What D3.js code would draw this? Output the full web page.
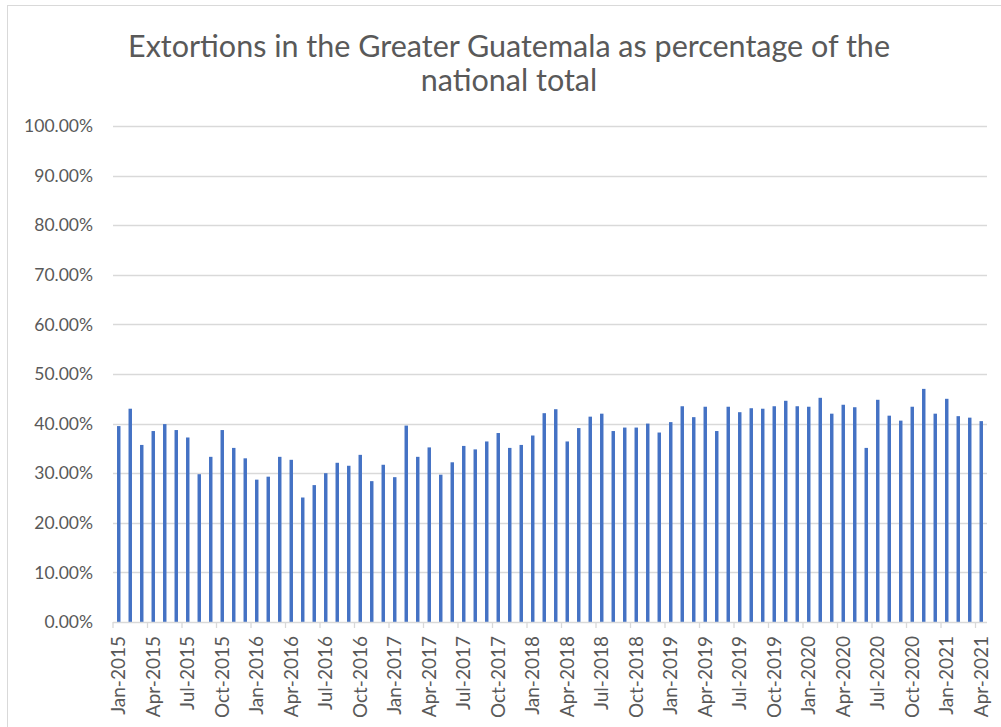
<!DOCTYPE html>
<html>
<head>
<meta charset="utf-8">
<script src="https://cdn.jsdelivr.net/npm/d3@7"></script>
<style>
  body { margin: 0; background: #fff; }
  svg { display: block; font-family: Lato, "Open Sans", sans-serif; }
</style>
</head>
<body>
<div id="chart"></div>
<script>
// Data: monthly share of national extortions, Jan 2015 - Apr 2021
const months = [
  "Jan-2015","Feb-2015","Mar-2015","Apr-2015","May-2015","Jun-2015","Jul-2015","Aug-2015","Sep-2015","Oct-2015","Nov-2015","Dec-2015",
  "Jan-2016","Feb-2016","Mar-2016","Apr-2016","May-2016","Jun-2016","Jul-2016","Aug-2016","Sep-2016","Oct-2016","Nov-2016","Dec-2016",
  "Jan-2017","Feb-2017","Mar-2017","Apr-2017","May-2017","Jun-2017","Jul-2017","Aug-2017","Sep-2017","Oct-2017","Nov-2017","Dec-2017",
  "Jan-2018","Feb-2018","Mar-2018","Apr-2018","May-2018","Jun-2018","Jul-2018","Aug-2018","Sep-2018","Oct-2018","Nov-2018","Dec-2018",
  "Jan-2019","Feb-2019","Mar-2019","Apr-2019","May-2019","Jun-2019","Jul-2019","Aug-2019","Sep-2019","Oct-2019","Nov-2019","Dec-2019",
  "Jan-2020","Feb-2020","Mar-2020","Apr-2020","May-2020","Jun-2020","Jul-2020","Aug-2020","Sep-2020","Oct-2020","Nov-2020","Dec-2020",
  "Jan-2021","Feb-2021","Mar-2021","Apr-2021"
];

const shares = [
  0.395, 0.430, 0.357, 0.385, 0.399, 0.387, 0.372, 0.298, 0.333, 0.387, 0.351, 0.330,
  0.287, 0.293, 0.333, 0.327, 0.251, 0.276, 0.300, 0.321, 0.315, 0.337, 0.284, 0.317,
  0.292, 0.396, 0.333, 0.352, 0.297, 0.322, 0.355, 0.348, 0.364, 0.381, 0.351, 0.357,
  0.376, 0.421, 0.429, 0.364, 0.391, 0.414, 0.420, 0.385, 0.392, 0.392, 0.400, 0.382,
  0.403, 0.435, 0.413, 0.434, 0.385, 0.434, 0.423, 0.431, 0.430, 0.435, 0.446, 0.435,
  0.434, 0.452, 0.420, 0.438, 0.433, 0.351, 0.448, 0.416, 0.406, 0.434, 0.470, 0.420,
  0.450, 0.415, 0.412, 0.405
];

const yTicks = [0, 0.1, 0.2, 0.3, 0.4, 0.5, 0.6, 0.7, 0.8, 0.9, 1.0];

const titleLines = ["Extortions in the Greater Guatemala as percentage of the", "national total"];

const width = 1001;
const height = 727;
const margin = { top: 126, right: 14, bottom: 105, left: 113 };

const svg = d3.select("#chart")
  .append("svg")
  .attr("width", width)
  .attr("height", height);

// chart frame (runs off the right and bottom edges)
svg.append("rect")
  .attr("x", 7.5)
  .attr("y", 5.5)
  .attr("width", width + 20)
  .attr("height", height + 20)
  .attr("fill", "#fff")
  .attr("stroke", "#d9d9d9");

// title
svg.append("text")
  .attr("text-anchor", "middle")
  .attr("fill", "#595959")
  .attr("font-size", 30.5)
  .selectAll("tspan")
  .data(titleLines)
  .join("tspan")
  .attr("x", 509)
  .attr("y", (d, i) => 57 + i * 34)
  .text(d => d);

const x = d3.scaleBand()
  .domain(months)
  .range([margin.left, width - margin.right])
  .paddingInner(0.7)
  .paddingOuter(0.35);

const y = d3.scaleLinear()
  .domain([0, 1])
  .range([height - margin.bottom, margin.top]);

// gridlines
svg.append("g")
  .selectAll("line")
  .data(yTicks.slice(1))
  .join("line")
  .attr("x1", margin.left)
  .attr("x2", width - margin.right)
  .attr("y1", d => Math.round(y(d)) + 0.5)
  .attr("y2", d => Math.round(y(d)) + 0.5)
  .attr("stroke", "#d9d9d9")
  .attr("stroke-width", 1.3);

// y axis labels
const yAxis = svg.append("g")
  .attr("transform", `translate(${margin.left},0)`)
  .call(d3.axisLeft(y).tickValues(yTicks).tickFormat(d3.format(".2%")).tickSize(0).tickPadding(20));
yAxis.select(".domain").remove();
yAxis.selectAll("text")
  .attr("fill", "#595959")
  .attr("font-size", 17.5)
  .attr("font-family", "Lato, sans-serif");

// bars
svg.append("g")
  .selectAll("rect")
  .data(shares)
  .join("rect")
  .attr("x", (d, i) => x(months[i]))
  .attr("y", d => y(d))
  .attr("width", x.bandwidth())
  .attr("height", d => y(0) - y(d))
  .attr("fill", "#4472c4");

// x axis: ticks at the left edge of each labelled quarter month
const step = x.step();
const labelled = months.filter((m, i) => i % 3 === 0);
const xAxis = svg.append("g")
  .attr("transform", `translate(0,${y(0)})`);

xAxis.append("line")
  .attr("x1", margin.left)
  .attr("x2", width - margin.right)
  .attr("y1", 0.5)
  .attr("y2", 0.5)
  .attr("stroke", "#d9d9d9")
  .attr("stroke-width", 1.3);

xAxis.selectAll(".tick")
  .data(labelled)
  .join("line")
  .attr("class", "tick")
  .attr("x1", d => x(d) + x.bandwidth() / 2 - step / 2)
  .attr("x2", d => x(d) + x.bandwidth() / 2 - step / 2)
  .attr("y1", 0)
  .attr("y2", 6)
  .attr("stroke", "#d9d9d9")
  .attr("stroke-width", 1.3);

xAxis.selectAll(".lbl")
  .data(labelled)
  .join("text")
  .attr("class", "lbl")
  .attr("transform", d => `translate(${x(d) + x.bandwidth() / 2 + 6.5},14) rotate(-90)`)
  .attr("text-anchor", "end")
  .attr("fill", "#595959")
  .attr("font-size", 19)
  .text(d => d);
</script>
</body>
</html>
